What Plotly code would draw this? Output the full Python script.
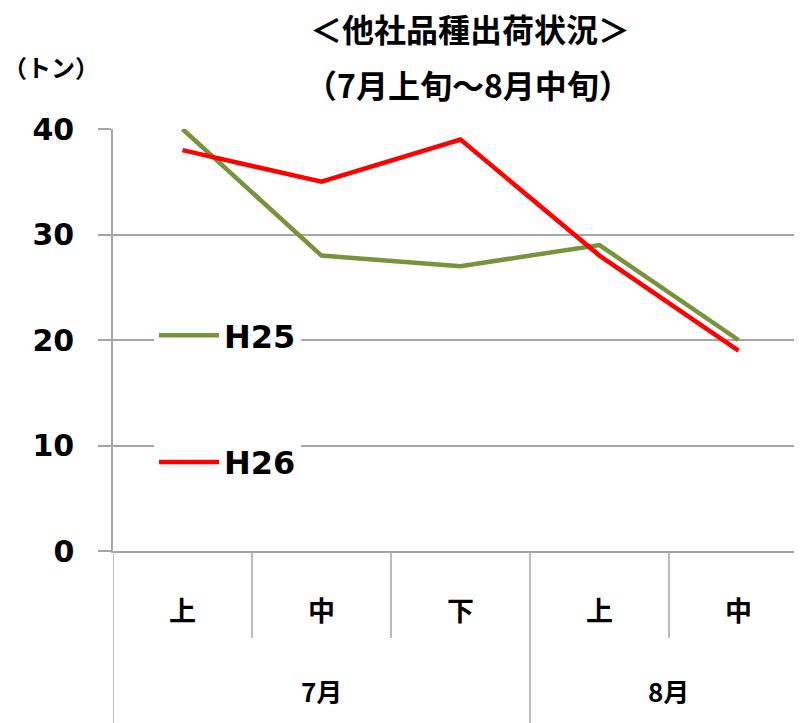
import plotly.graph_objects as go

months = ["7月", "7月", "7月", "8月", "8月"]
periods = ["上", "中", "下", "上", "中"]
h25 = [40, 28, 27, 29, 20]
h26 = [38, 35, 39, 28, 19]
y_ticks = [0, 10, 20, 30, 40]

CJK = "Noto Sans CJK JP"
LAT = "DejaVu Sans"
OFF = 8  # default page body margin
W, H = 802 - OFF, 723 - OFF
ML, MR, MT, MB = 113 - OFF, 0, 129 - OFF, 172
PW, PH = W - ML - MR, H - MT - MB
GRAY = "#A6A6A6"


def px(X):  # reference pixel x -> paper
    return (X - 113) / PW


def py(Y):  # reference pixel y -> paper
    return (551 - Y) / PH


idx = list(range(len(periods)))

fig = go.Figure()
fig.add_trace(go.Scatter(x=idx, y=h25, mode="lines", name="H25",
                         line=dict(color="#77933C", width=4.5), legendgroup="a"))
fig.add_trace(go.Scatter(x=idx, y=h26, mode="lines", name="H26",
                         line=dict(color="#FF0000", width=4.5), legendgroup="b"))

# category dividers below the axis
shapes = []
short_len = -87 / PH
long_len = -172 / PH
shapes.append(dict(type="line", xref="x", yref="paper", x0=-0.5, x1=-0.5, y0=0, y1=long_len,
                   line=dict(color=GRAY, width=1.5)))
for i in range(len(periods) - 1):
    same = months[i] == months[i + 1]
    shapes.append(dict(type="line", xref="x", yref="paper", x0=i + 0.5, x1=i + 0.5, y0=0,
                       y1=short_len if same else long_len, line=dict(color=GRAY, width=1.5)))

annotations = []
for m in dict.fromkeys(months):
    pos = [i for i, mm in enumerate(months) if mm == m]
    annotations.append(dict(text=m, xref="x", yref="paper", x=sum(pos) / len(pos), y=py(690),
                            xanchor="center", yanchor="middle", showarrow=False,
                            font=dict(size=26, family=CJK, weight="bold")))

annotations += [
    dict(text="＜他社品種出荷状況＞", xref="paper", yref="paper", x=px(470), y=py(28),
         xanchor="center", yanchor="middle", showarrow=False,
         font=dict(size=32, family=CJK, weight="bold")),
    dict(text="（7月上旬～8月中旬）", xref="paper", yref="paper", x=px(468), y=py(84),
         xanchor="center", yanchor="middle", showarrow=False,
         font=dict(size=32, family=CJK, weight="bold")),
    dict(text="（トン）", xref="paper", yref="paper", x=px(51), y=py(66),
         xanchor="center", yanchor="middle", showarrow=False,
         font=dict(size=24, family=CJK, weight="bold")),
]

fig.update_layout(
    width=W, height=H,
    margin=dict(l=ML, r=MR, t=MT, b=MB, pad=0),
    paper_bgcolor="white", plot_bgcolor="white",
    font=dict(family=CJK, color="black"),
    showlegend=True,
    legend=dict(x=px(154), y=py(308), xanchor="left", yanchor="top",
                bgcolor="white", tracegroupgap=82,
                font=dict(size=32, family=LAT, weight="bold"),
                itemwidth=60),
    xaxis=dict(range=[-0.5, 4.457], tickvals=idx, ticktext=periods,
               showgrid=False, showline=True, linecolor=GRAY, linewidth=1.5,
               ticks="", zeroline=False,
               tickfont=dict(size=27, family=CJK, weight="bold"),
               ticklabelstandoff=36),
    yaxis=dict(range=[0, 40], tickvals=y_ticks, showgrid=True, gridcolor=GRAY, gridwidth=1.5,
               showline=True, linecolor=GRAY, linewidth=1.5,
               ticks="outside", ticklen=13, tickcolor=GRAY, tickwidth=1.5,
               tickfont=dict(size=30, family=LAT, weight="bold"),
               ticklabelstandoff=18, zeroline=False),
    shapes=shapes,
    annotations=annotations,
)

fig.write_html("out.html")
